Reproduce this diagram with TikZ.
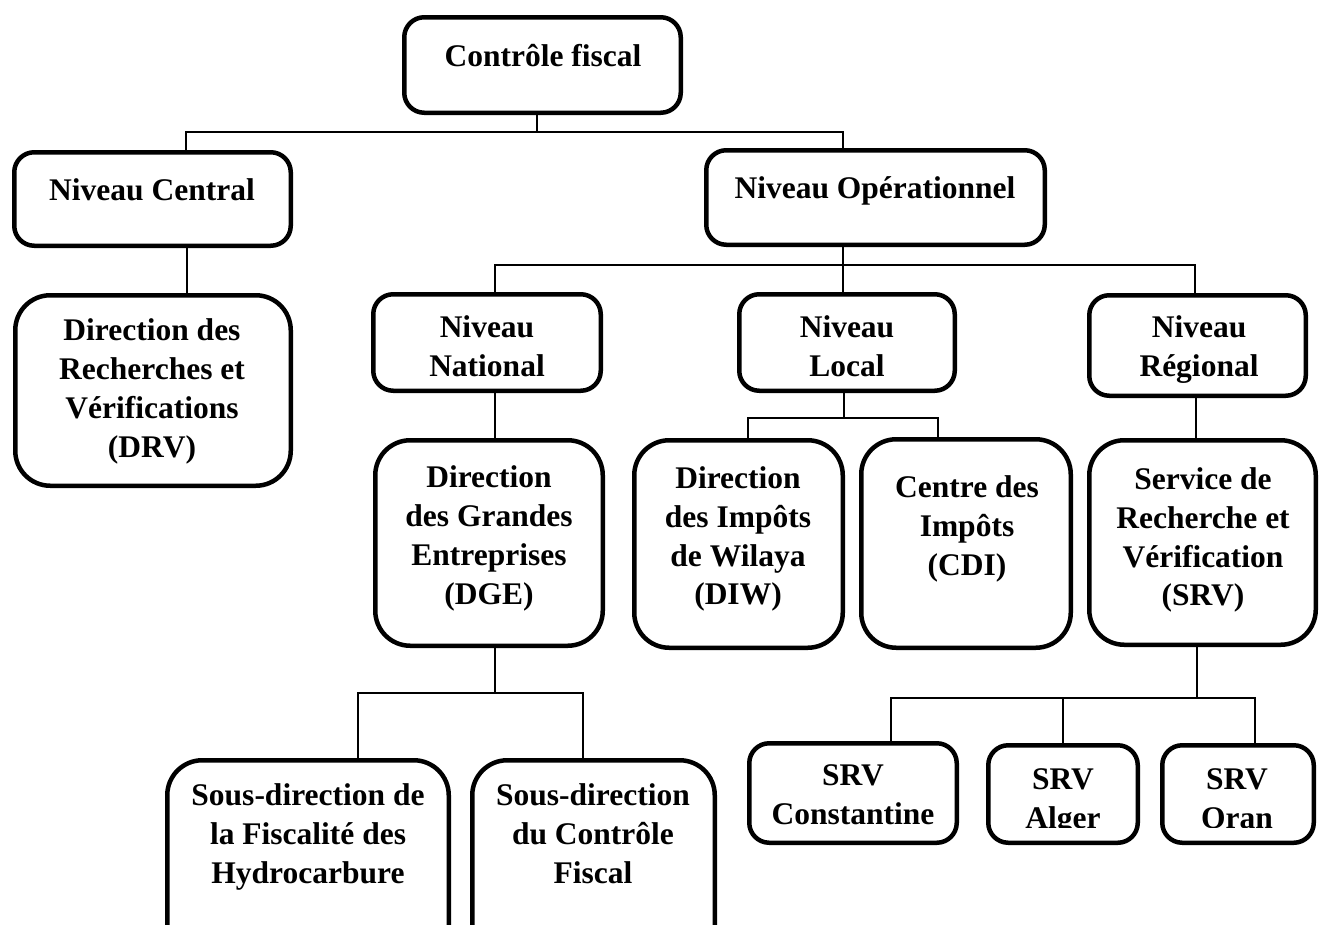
\documentclass[tikz,border=0pt]{standalone}
\usepackage{fontspec}
\setmainfont{Liberation Serif}
\tikzset{
  box/.style={draw, line width=4.5pt, rounded corners=#1, inner sep=0pt},
  box/.default=20pt,
  txt/.style={align=center, inner sep=0pt,
    font=\bfseries\fontsize{31.5}{38.8}\selectfont,
    execute at begin node=\strut, execute at end node=\strut},
  conn/.style={line width=1.8pt},
}
\begin{document}
\begin{tikzpicture}[x=1pt,y=-1pt]
\useasboundingbox (0,0) rectangle (1327,924);
\clip (0,0) rectangle (1327,924);
\fill[white] (0,0) rectangle (1327,924);

% boxes
\node[box, minimum width=276.5pt, minimum height=95.5pt] (top) at (542.5,65) {};
\node[box, minimum width=276.5pt, minimum height=93.5pt] (central) at (152.5,199) {};
\node[box, minimum width=338.5pt, minimum height=94.5pt] (oper) at (875.5,197.5) {};
\node[box=35pt, minimum width=275.5pt, minimum height=190.5pt] (drv) at (153,390.5) {};
\node[box, minimum width=227.5pt, minimum height=96.5pt] (national) at (487,342.5) {};
\node[box, minimum width=215.5pt, minimum height=96.5pt] (local) at (847,342.5) {};
\node[box, minimum width=216.5pt, minimum height=100.5pt] (regional) at (1197.5,345.5) {};
\node[box=35pt, minimum width=227.5pt, minimum height=205.5pt] (dge) at (489,543) {};
\node[box=35pt, minimum width=208.5pt, minimum height=207.5pt] (diw) at (738.5,544) {};
\node[box=35pt, minimum width=209.5pt, minimum height=208.5pt] (cdi) at (966,543.5) {};
\node[box=35pt, minimum width=226.5pt, minimum height=204.5pt] (srv) at (1202.5,542.5) {};
\node[box=35pt, minimum width=281.5pt, minimum height=237.5pt] (sdf) at (308,879) {};
\node[box=35pt, minimum width=242.5pt, minimum height=237.5pt] (sdc) at (593.5,879) {};
\node[box, minimum width=207.5pt, minimum height=99.5pt] (srvc) at (853,793) {};
\node[box, minimum width=149.5pt, minimum height=97.5pt] (srva) at (1063,794) {};
\node[box, minimum width=151.5pt, minimum height=97.5pt] (srvo) at (1238,794) {};

% texts
\node[txt] (ttop) at (543,58.5) {Contrôle fiscal};
\node[txt] (tcentral) at (152,192.5) {Niveau Central};
\node[txt] (toper) at (875,190.5) {Niveau Opérationnel};
\node[txt] (tdrv) at (152,394) {Direction des\\Recherches et\\Vérifications\\(DRV)};
\node[txt] (tnational) at (487,351.5) {Niveau\\National};
\node[txt] (tlocal) at (847,351.5) {Niveau\\Local};
\node[txt] (tregional) at (1199,352) {Niveau\\Régional};
\node[txt] (tdge) at (489,541) {Direction\\des Grandes\\Entreprises\\(DGE)};
\node[txt] (tdiw) at (738,541.5) {Direction\\des Impôts\\de Wilaya\\(DIW)};
\node[txt] (tcdi) at (967,531.5) {Centre des\\Impôts\\(CDI)};
\node[txt] (tsrv) at (1203,542.5) {Service de\\Recherche et\\Vérification\\(SRV)};
\node[txt] (tsdf) at (308,839.5) {Sous-direction de\\la Fiscalité des\\Hydrocarbure};
\node[txt] (tsdc) at (593,839.5) {Sous-direction\\du Contrôle\\Fiscal};
\node[txt] (tsrvc) at (853,800.5) {SRV\\Constantine};
\begin{scope}
\clip (975,700) rectangle (1320,827);
\node[txt] (tsrva) at (1063,804) {SRV\\Alger};
\node[txt] (tsrvo) at (1237,804) {SRV\\Oran};
\end{scope}

% connectors
\coordinate (h1) at (537,132);
\coordinate (d1) at (186,132);
\coordinate (d2) at (843,132);
\draw[conn] (top.south -| h1) -- (h1);
\draw[conn] (central.north -| d1) -- (d1) -- (d2) -- (oper.north -| d2);

\coordinate (c1) at (187,270);
\draw[conn] (central.south -| c1) -- (drv.north -| c1);

\coordinate (h2) at (843,265);
\coordinate (e1) at (495,265);
\coordinate (e3) at (1195,265);
\draw[conn] (oper.south -| h2) -- (h2);
\draw[conn] (national.north -| e1) -- (e1) -- (e3) -- (regional.north -| e3);
\draw[conn] (h2) -- (local.north -| h2);

\coordinate (n1) at (495,415);
\draw[conn] (national.south -| n1) -- (dge.north -| n1);

\coordinate (h3) at (844,418);
\coordinate (f1) at (748,418);
\coordinate (f2) at (938,418);
\draw[conn] (local.south -| h3) -- (h3);
\draw[conn] (diw.north -| f1) -- (f1) -- (f2) -- (cdi.north -| f2);

\coordinate (r1) at (1196,418);
\draw[conn] (regional.south -| r1) -- (srv.north -| r1);

\coordinate (h4) at (495,693);
\coordinate (g1) at (358,693);
\coordinate (g2) at (583,693);
\draw[conn] (dge.south -| h4) -- (h4);
\draw[conn] (sdf.north -| g1) -- (g1) -- (g2) -- (sdc.north -| g2);

\coordinate (h5) at (1197,698);
\coordinate (k1) at (891,698);
\coordinate (k2) at (1063,698);
\coordinate (k3) at (1255,698);
\draw[conn] (srv.south -| h5) -- (h5);
\draw[conn] (srvc.north -| k1) -- (k1) -- (k3) -- (srvo.north -| k3);
\draw[conn] (k2) -- (srva.north -| k2);
\end{tikzpicture}
\end{document}
